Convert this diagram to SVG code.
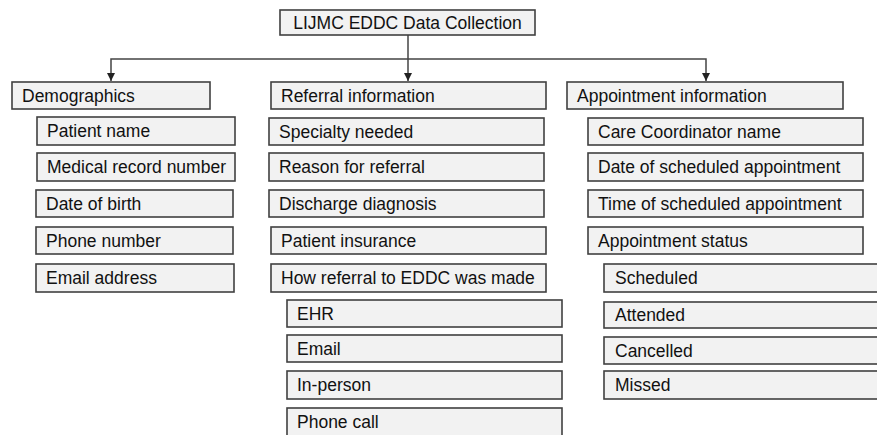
<svg xmlns="http://www.w3.org/2000/svg" width="877" height="435" viewBox="0 0 877 435">
<style>
.b{fill:#f2f2f2;stroke:#404040;stroke-width:1.6}
.t{font-family:"Liberation Sans",Arial,sans-serif;font-size:17.5px;fill:#111}
.c{fill:none;stroke:#444;stroke-width:1.5}
</style>
<defs>
<marker id="ah" viewBox="0 0 10 10" refX="10" refY="5" markerWidth="8" markerHeight="8" markerUnits="userSpaceOnUse" orient="auto">
<path d="M0,0 L10,5 L0,10 Z" fill="#222"/>
</marker>
</defs>
<rect width="877" height="435" fill="#fff"/>
<g id="connectors">
<path class="c" d="M408,35 V81" marker-end="url(#ah)"/>
<path class="c" d="M408,59 H111 V81" marker-end="url(#ah)"/>
<path class="c" d="M408,59 H706 V81" marker-end="url(#ah)"/>
</g>
<g id="title"><rect class="b" x="280" y="10" width="255" height="25"/><text class="t" x="407.5" y="29" text-anchor="middle">LIJMC EDDC Data Collection</text></g>

<g id="demographics"><rect class="b" x="12" y="82" width="198" height="27"/><text class="t" x="22" y="102">Demographics</text></g>
<g id="patient-name"><rect class="b" x="37" y="117" width="198" height="28"/><text class="t" x="47" y="137">Patient name</text></g>
<g id="mrn"><rect class="b" x="37" y="153" width="198" height="28"/><text class="t" x="47" y="173">Medical record number</text></g>
<g id="dob"><rect class="b" x="36" y="190" width="197" height="27"/><text class="t" x="46" y="210">Date of birth</text></g>
<g id="phone"><rect class="b" x="36" y="227" width="197" height="27"/><text class="t" x="46" y="247">Phone number</text></g>
<g id="email-address"><rect class="b" x="36" y="264" width="198" height="28"/><text class="t" x="46" y="284">Email address</text></g>

<g id="referral"><rect class="b" x="271" y="82" width="275" height="27"/><text class="t" x="281" y="102">Referral information</text></g>
<g id="specialty"><rect class="b" x="269" y="118" width="275" height="27"/><text class="t" x="279" y="138">Specialty needed</text></g>
<g id="reason"><rect class="b" x="269" y="153" width="275" height="28"/><text class="t" x="279" y="173">Reason for referral</text></g>
<g id="discharge"><rect class="b" x="269" y="190" width="275" height="27"/><text class="t" x="279" y="210">Discharge diagnosis</text></g>
<g id="insurance"><rect class="b" x="271" y="227" width="275" height="27"/><text class="t" x="281" y="247">Patient insurance</text></g>
<g id="how-referral"><rect class="b" x="271" y="264" width="275" height="28"/><text class="t" x="281" y="284">How referral to EDDC was made</text></g>
<g id="ehr"><rect class="b" x="287" y="300" width="275" height="27"/><text class="t" x="297" y="320">EHR</text></g>
<g id="email"><rect class="b" x="287" y="335" width="275" height="27"/><text class="t" x="297" y="355">Email</text></g>
<g id="in-person"><rect class="b" x="287" y="371" width="275" height="28"/><text class="t" x="297" y="391">In-person</text></g>
<g id="phone-call"><rect class="b" x="287" y="408" width="275" height="30"/><text class="t" x="297" y="428">Phone call</text></g>

<g id="appointment"><rect class="b" x="567" y="82" width="276" height="27"/><text class="t" x="577" y="102">Appointment information</text></g>
<g id="coordinator"><rect class="b" x="588" y="118" width="275" height="27"/><text class="t" x="598" y="138">Care Coordinator name</text></g>
<g id="date-sched"><rect class="b" x="588" y="153" width="275" height="28"/><text class="t" x="598" y="173">Date of scheduled appointment</text></g>
<g id="time-sched"><rect class="b" x="588" y="190" width="275" height="27"/><text class="t" x="598" y="210">Time of scheduled appointment</text></g>
<g id="status"><rect class="b" x="588" y="227" width="275" height="27"/><text class="t" x="598" y="247">Appointment status</text></g>
<g id="scheduled"><rect class="b" x="604" y="264" width="280" height="28"/><text class="t" x="615" y="284">Scheduled</text></g>
<g id="attended"><rect class="b" x="604" y="302" width="280" height="26"/><text class="t" x="615" y="321">Attended</text></g>
<g id="cancelled"><rect class="b" x="604" y="337" width="280" height="27"/><text class="t" x="615" y="357">Cancelled</text></g>
<g id="missed"><rect class="b" x="604" y="371" width="280" height="28"/><text class="t" x="615" y="391">Missed</text></g>
</svg>
